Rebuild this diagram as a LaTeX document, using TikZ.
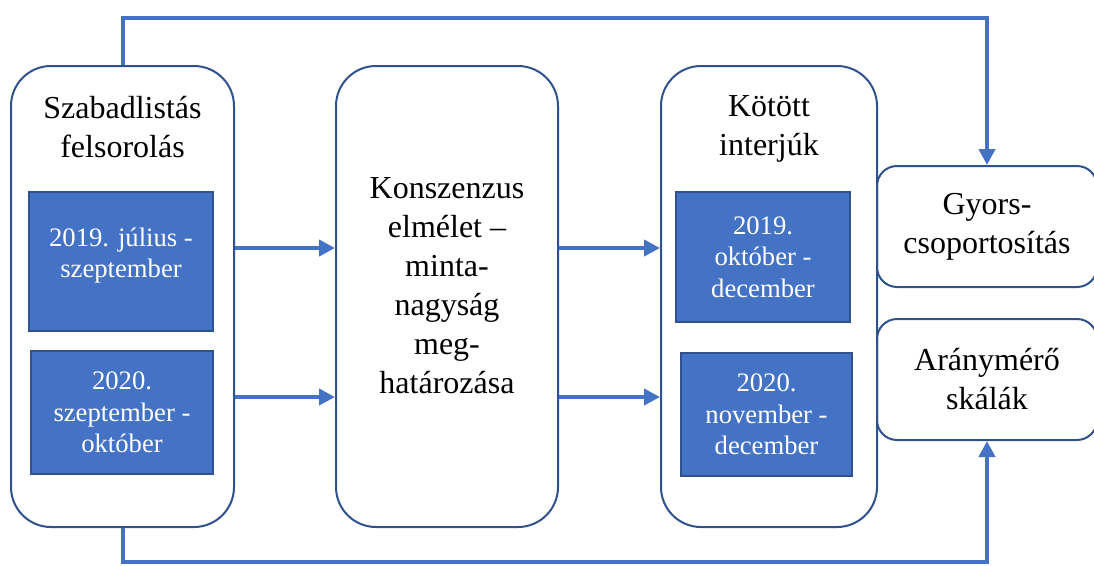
\documentclass[tikz,border=0pt]{standalone}
\usepackage{fontspec}
\setmainfont{Liberation Serif}
\usetikzlibrary{arrows.meta}
\definecolor{accent}{HTML}{4472C4}
\definecolor{frame}{HTML}{2F528F}
\begin{document}
\begin{tikzpicture}[x=0.75pt,y=-0.75pt,
	phase/.style={draw=frame,line width=1.5pt,rounded corners=30pt,minimum height=345.75pt,inner sep=0pt},
	side/.style={draw=frame,line width=1.5pt,rounded corners=15pt,minimum width=165pt,minimum height=90.75pt,align=center,font=\fontsize{24}{29.25}\selectfont},
	period/.style={draw=frame,line width=0.9pt,fill=accent,text=white,align=center,inner sep=0pt,font=\fontsize{20}{23.5}\selectfont},
	title/.style={align=center,font=\fontsize{24}{29.25}\selectfont},
	arr/.style={draw=accent,line width=3pt,-{Triangle[length=12pt,width=12pt]}}]
	\useasboundingbox (0,0) rectangle (1094,565);
	% three phases
	\node[phase,minimum width=167.25pt] (lbox) at (122.5,296.5) {};
	\node[phase,minimum width=166.5pt] (mid) at (447,296.5) {};
	\node[phase,minimum width=162pt] (rbox) at (769,296.5) {};
	\node[title] (ltitle) at (122.5,127) {Szabadlistás\\felsorolás};
	\node[title] (rtitle) at (769,129) {Kötött\\interjúk};
	\node[title] (mtext) at (447,286) {Konszenzus\\elmélet --\\minta-\\nagyság\\meg-\\határozása};
	% periods
	\node[period,minimum width=138pt,minimum height=104.25pt,text depth=13pt] (p1) at (121,261.5) {2019. július -\\szeptember};
	\node[period,minimum width=136.5pt,minimum height=92.25pt] (p2) at (122,412.5) {2020.\\szeptember -\\október};
	\node[period,minimum width=130.5pt,minimum height=97.5pt] (p3) at (763,257) {2019.\\október -\\december};
	\node[period,minimum width=128.25pt,minimum height=92.25pt] (p4) at (766.5,414.5) {2020.\\november -\\december};
	% outputs
	\node[side] (gyors) at (987,226.5) {Gyors-\\csoportosítás};
	\node[side] (arany) at (987,379.5) {Arány\-mérő\\skálák};
	\foreach \y in {248,397}{
		\draw[arr] (lbox.east |- 0,\y) -- (mid.west |- 0,\y);
		\draw[arr] (mid.east |- 0,\y) -- (rbox.west |- 0,\y);}
	\coordinate (up) at (122.5,18);
	\coordinate (down) at (122.5,562);
	\draw[arr] (lbox.north) -- (up) -| (gyors.north);
	\draw[arr] (lbox.south) -- (down) -| (arany.south);
\end{tikzpicture}
\end{document}
